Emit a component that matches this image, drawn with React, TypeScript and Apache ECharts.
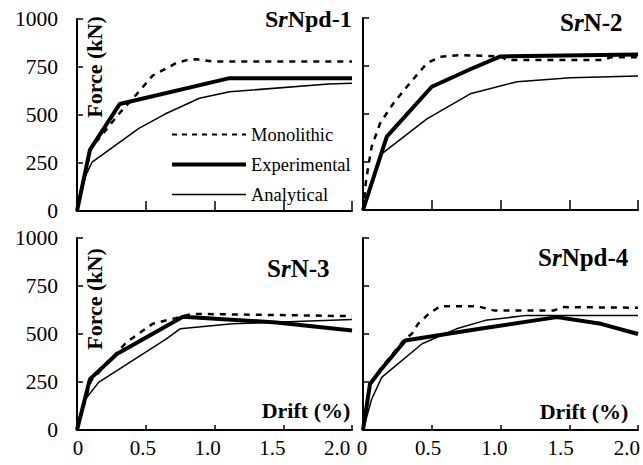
import React, { useEffect, useRef } from "react";
import * as echarts from "echarts";

// ---- data ----
const driftTicks = ["0", "0.5", "1.0", "1.5", "2.0"];
const forceTicks = ["0", "250", "500", "750", "1000"];
const seriesNames = ["Monolithic", "Experimental", "Analytical"];
const panelNames = ["SrNpd-1", "SrN-2", "SrN-3", "SrNpd-4"];

// [drift %, force kN]
const mono1 = [[0, 0], [0.1, 325], [0.31, 510], [0.43, 605], [0.55, 705], [0.72, 770], [0.8, 786], [0.87, 790], [1.0, 778], [2.0, 778]];
const exp1 = [[0, 0], [0.094, 318], [0.31, 557], [1.11, 692], [2.0, 692]];
const ana1 = [[0, 0], [0.06, 180], [0.11, 255], [0.45, 430], [0.64, 505], [0.89, 587], [1.11, 621], [1.83, 661], [2.0, 665]];

const mono2 = [[0, 0], [0.02, 140], [0.04, 234], [0.063, 330], [0.124, 451], [0.22, 555], [0.34, 660], [0.465, 764], [0.56, 798], [0.71, 807], [1.0, 800], [1.05, 781], [1.75, 781], [1.8, 795], [2.0, 795]];
const exp2 = [[0, 0], [0.173, 382], [0.5, 642], [0.78, 733], [1.0, 800], [2.0, 810]];
const ana2 = [[0, 0], [0.124, 286], [0.465, 475], [0.78, 605], [1.12, 668], [1.51, 689], [2.0, 698]];

const mono3 = [[0, 0], [0.1, 255], [0.3, 410], [0.36, 457], [0.55, 553], [0.84, 605], [2.0, 593]];
const exp3 = [[0, 0], [0.094, 265], [0.29, 396], [0.77, 590], [1.45, 560], [2.0, 518]];
const ana3 = [[0, 0], [0.05, 150], [0.157, 248], [0.65, 475], [0.75, 527], [1.13, 553], [2.0, 575]];

const mono4 = [[0, 0], [0.05, 235], [0.124, 315], [0.3, 470], [0.355, 501], [0.4, 553], [0.48, 606], [0.56, 644], [0.83, 645], [0.95, 623], [1.39, 623], [1.45, 640], [2.0, 637]];
const exp4 = [[0, 0], [0.051, 240], [0.124, 309], [0.307, 466], [0.85, 527], [1.41, 588], [1.73, 553], [2.0, 500]];
const ana4 = [[0, 0], [0.063, 160], [0.136, 274], [0.43, 449], [0.68, 527], [0.89, 571], [1.19, 597], [2.0, 597]];

const panels = [
  [mono1, exp1, ana1],
  [mono2, exp2, ana2],
  [mono3, exp3, ana3],
  [mono4, exp4, ana4],
];

const FONT = "Liberation Serif, Times New Roman, serif";

export default function App() {
  const ref = useRef<HTMLDivElement>(null);
  useEffect(() => {
    if (!ref.current) return;
    const chart = echarts.init(ref.current, null, { renderer: "svg" });

    const grids = [
      { left: 77, top: 19, width: 275, height: 192 },
      { left: 363, top: 18, width: 275, height: 192 },
      { left: 77, top: 238, width: 275, height: 192 },
      { left: 363, top: 238, width: 275, height: 192 },
      // label-only grids for the bottom drift tick labels
      { left: 78, top: 238, width: 259, height: 192 },
      { left: 362, top: 238, width: 265, height: 192 },
    ];

    const axisLine = { show: true, lineStyle: { color: "#000", width: 2 } };

    const xAxis: any[] = [0, 1, 2, 3].map((i) => ({
      type: "value",
      gridIndex: i,
      min: 0,
      max: 2,
      interval: 0.5,
      axisLine,
      axisTick: { show: true, inside: true, length: i < 2 ? 10 : 5, lineStyle: { color: "#000", width: 1.5 } },
      axisLabel: { show: false },
      splitLine: { show: false },
    }));
    [4, 5].forEach((g) =>
      xAxis.push({
        type: "value",
        gridIndex: g,
        min: 0,
        max: 2,
        interval: 0.5,
        axisLine: { show: false },
        axisTick: { show: false },
        splitLine: { show: false },
        axisLabel: {
          show: true,
          margin: 7,
          color: "#000",
          fontFamily: FONT,
          fontSize: 21,
          formatter: (v: number) => driftTicks[Math.round(v / 0.5)],
        },
      })
    );

    const yAxis: any[] = [0, 1, 2, 3].map((i) => ({
      type: "value",
      gridIndex: i,
      min: 0,
      max: 1000,
      interval: 250,
      axisLine,
      axisTick: { show: true, inside: true, length: 6, lineStyle: { color: "#000", width: 1.5 } },
      axisLabel: {
        show: i % 2 === 0,
        margin: 19,
        color: "#000",
        fontFamily: FONT,
        fontSize: 21.5,
        formatter: (v: number) => forceTicks[Math.round(v / 250)],
      },
      splitLine: { show: false },
    }));
    [4, 5].forEach((g) => yAxis.push({ type: "value", gridIndex: g, min: 0, max: 1000, show: false }));

    const styles = [
      { width: 2.5, type: [6, 6] },
      { width: 4, type: "solid" },
      { width: 1.5, type: "solid" },
    ];
    const drawOrder = [0, 2, 1];
    const series: any[] = [];
    panels.forEach((p, i) => {
      drawOrder.forEach((k) => {
        series.push({
          type: "line",
          name: seriesNames[k],
          xAxisIndex: i,
          yAxisIndex: i,
          data: p[k],
          symbol: "none",
          z: k === 1 ? 4 : 3,
          lineStyle: { color: "#000", width: styles[k].width, type: styles[k].type },
          itemStyle: { color: "#000" },
        });
      });
    });

    const titlePos = [
      { left: 265, top: 7, size: 24 },
      { left: 560, top: 10, size: 25 },
      { left: 267, top: 256, size: 25 },
      { left: 538, top: 245, size: 25 },
    ];
    const title = panelNames.map((n, i) => ({
      text: `{b|S}{i|r}{b|${n.slice(2)}}`,
      left: titlePos[i].left,
      top: titlePos[i].top,
      padding: 0,
      textStyle: {
        rich: {
          b: { fontFamily: FONT, fontWeight: "bold", fontSize: titlePos[i].size, color: "#000" },
          i: { fontFamily: FONT, fontWeight: "bold", fontStyle: "italic", fontSize: titlePos[i].size, color: "#000" },
        },
      },
    }));

    const boldText = (text: string, x: number, y: number, rot: number) => ({
      type: "text",
      x,
      y,
      rotation: rot,
      style: {
        text,
        fill: "#000",
        fontFamily: FONT,
        fontWeight: "bold",
        fontSize: 22,
        align: "center",
        verticalAlign: "middle",
      },
    });

    const hiddenSymbol = { opacity: 0, color: "rgba(0,0,0,0)", borderWidth: 0 };

    chart.setOption({
      animation: false,
      backgroundColor: "#fff",
      title,
      grid: grids,
      xAxis,
      yAxis,
      legend: {
        orient: "vertical",
        left: 170,
        top: 125,
        padding: 0,
        itemWidth: 74,
        itemHeight: 16,
        itemGap: 11,
        selectedMode: false,
        textStyle: { fontFamily: FONT, fontSize: 18.5, color: "#000" },
        data: [
          { name: "Monolithic", itemStyle: hiddenSymbol, lineStyle: { width: 2, type: [5, 5], color: "#000" } },
          { name: "Experimental", itemStyle: hiddenSymbol, lineStyle: { width: 4, color: "#000" } },
          { name: "Analytical", itemStyle: hiddenSymbol, lineStyle: { width: 1.5, color: "#000" } },
        ],
      },
      graphic: [
        boldText("Force (kN)", 94, 67, Math.PI / 2),
        boldText("Force (kN)", 94, 299, Math.PI / 2),
        boldText("Drift (%)", 306, 410, 0),
        boldText("Drift (%)", 584, 411, 0),
      ],
      series,
    });
    return () => chart.dispose();
  }, []);
  return <div ref={ref} style={{ position: "absolute", left: 0, top: 0, width: 643, height: 465 }} />;
}
